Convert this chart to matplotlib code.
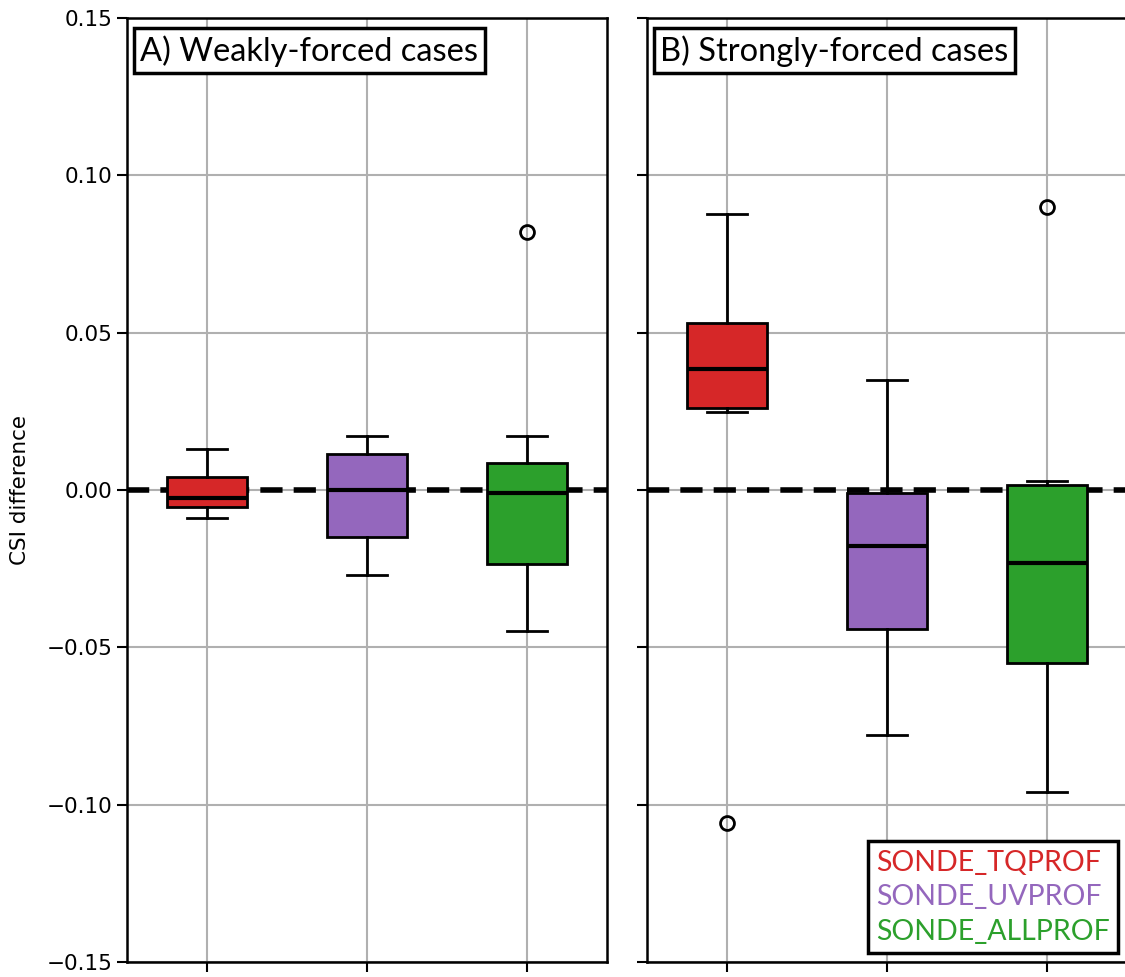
import matplotlib
matplotlib.use("Agg")
import matplotlib.pyplot as plt
from matplotlib.patches import Patch

# experiment names and colours
experiments = ["SONDE_TQPROF", "SONDE_UVPROF", "SONDE_ALLPROF"]
colors = ["#d62728", "#9467bd", "#2ca02c"]

# box statistics (CSI difference)
weak_whislo = [-0.0089, -0.0270, -0.0448]
weak_q1 = [-0.0054, -0.0149, -0.0235]
weak_med = [-0.0025, 0.0000, -0.0010]
weak_q3 = [0.0041, 0.0114, 0.0086]
weak_whishi = [0.0130, 0.0172, 0.0172]
weak_fliers = [[], [], [0.082]]

strong_whislo = [0.0249, -0.0780, -0.0960]
strong_q1 = [0.0262, -0.0442, -0.0550]
strong_med = [0.0385, -0.0177, -0.0231]
strong_q3 = [0.0530, -0.0009, 0.0015]
strong_whishi = [0.0878, 0.0350, 0.0029]
strong_fliers = [[-0.1058], [], [0.0898]]

titles = ["A) Weakly-forced cases", "B) Strongly-forced cases"]

label_font = ["Lato", "DejaVu Sans"]


def make_stats(lo, q1, med, q3, hi, fl):
    out = []
    for i in range(len(med)):
        out.append(dict(whislo=lo[i], q1=q1[i], med=med[i], q3=q3[i],
                        whishi=hi[i], fliers=fl[i]))
    return out


panels = [
    make_stats(weak_whislo, weak_q1, weak_med, weak_q3, weak_whishi, weak_fliers),
    make_stats(strong_whislo, strong_q1, strong_med, strong_q3, strong_whishi, strong_fliers),
]

fig = plt.figure(figsize=(11.25, 9.77), dpi=100)
ax1 = fig.add_axes([0.1129, 0.0154, 0.4267, 0.9662])
ax2 = fig.add_axes([0.5751, 0.0154, 0.4267, 0.9662], sharey=ax1)

for ax, stats, title in zip([ax1, ax2], panels, titles):
    bp = ax.bxp(stats, positions=[1, 2, 3], widths=0.5, patch_artist=True,
                boxprops=dict(linewidth=2),
                medianprops=dict(color="black", linewidth=3),
                whiskerprops=dict(linewidth=2),
                capprops=dict(linewidth=2),
                flierprops=dict(marker="o", markerfacecolor="none",
                                markeredgecolor="black", markersize=10,
                                markeredgewidth=2))
    for patch, c in zip(bp["boxes"], colors):
        patch.set_facecolor(c)
        patch.set_edgecolor("black")
    ax.axhline(0, color="black", linestyle=(0, (4, 2)), linewidth=4, zorder=1.5)
    ax.grid(True, color="#b0b0b0", linewidth=1.5)
    ax.set_axisbelow(True)
    ax.set_xlim(0.5, 3.5)
    ax.set_xticks([1, 2, 3])
    ax.set_xticklabels([])
    ax.tick_params(width=1.5, length=7, labelsize=15.5)
    for sp in ax.spines.values():
        sp.set_linewidth(1.8)
    ax.text(0.028, 0.982, title, transform=ax.transAxes, ha="left", va="top",
            fontsize=23.5, family=label_font,
            bbox=dict(boxstyle="square,pad=0.2", facecolor="white",
                      edgecolor="black", linewidth=2.5))

ax1.set_ylim(-0.15, 0.15)
ax1.set_yticks([-0.15, -0.10, -0.05, 0.00, 0.05, 0.10, 0.15])
ax1.set_ylabel("CSI difference", fontsize=15.5, labelpad=12)
plt.setp(ax2.get_yticklabels(), visible=False)

handles = [Patch(visible=False) for _ in experiments]
leg = ax2.legend(handles, experiments, loc="lower right", handlelength=0,
                 handletextpad=0, fancybox=False, framealpha=1,
                 edgecolor="black", borderaxespad=0.3, labelspacing=0.3,
                 borderpad=0.3,
                 prop=dict(family=label_font, size=20.5), labelcolor=colors)
leg.get_frame().set_linewidth(2.5)

fig.savefig("out.png", dpi=100)
